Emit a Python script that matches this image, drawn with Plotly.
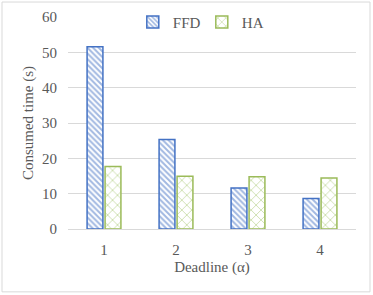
import plotly.graph_objects as go

categories = ["1", "2", "3", "4"]
ffd = [51.6, 25.3, 11.6, 8.6]
ha = [17.7, 14.9, 14.8, 14.4]
y_ticks = [0, 10, 20, 30, 40, 50, 60]

font_family = "Liberation Serif, Times New Roman, serif"
gray = "#595959"

fig = go.Figure()
fig.add_trace(go.Bar(
    x=categories, y=ffd, name="FFD",
    marker=dict(color="white", line=dict(color="#4472C4", width=1.5),
                pattern=dict(shape="\\", fgcolor="#4472C4", bgcolor="white", size=4, solidity=0.5)),
))
fig.add_trace(go.Bar(
    x=categories, y=ha, name="HA",
    marker=dict(color="white", line=dict(color="#9BBB59", width=1.5),
                pattern=dict(shape="x", fgcolor="#8DB548", bgcolor="white", size=7, solidity=0.22)),
))

fig.update_layout(
    width=373, height=295,
    margin=dict(l=68, r=17, t=17, b=66, autoexpand=False),
    paper_bgcolor="white", plot_bgcolor="white",
    font=dict(family=font_family, color=gray, size=15),
    barmode="group", bargap=0.5, bargroupgap=0.12,
    showlegend=True,
    legend=dict(orientation="h", x=0.225, xanchor="left", y=0.975, yanchor="middle",
                font=dict(size=15, color=gray), bgcolor="rgba(0,0,0,0)",
                itemwidth=30, tracegroupgap=0, entrywidth=24, entrywidthmode="pixels"),
    shapes=[dict(type="rect", xref="paper", yref="paper",
                 x0=-66/288, x1=1 + 14/288, y0=-63/212.5, y1=1 + 15/212.5,
                 line=dict(color="#D9D9D9", width=1))],
)
fig.update_xaxes(
    showline=False, ticks="", tickfont=dict(size=15, color=gray), ticklabelstandoff=10,
    title=dict(text="Deadline (α)", font=dict(size=15, color=gray), standoff=4),
)
fig.update_yaxes(
    range=[0, 60], tickvals=y_ticks, showgrid=True, gridcolor="#D9D9D9", gridwidth=1,
    zeroline=True, zerolinecolor="#D9D9D9", zerolinewidth=1,
    showline=False, ticks="", tickfont=dict(size=15, color=gray), ticklabelstandoff=10,
    title=dict(text="Consumed time (s)", font=dict(size=15, color=gray), standoff=4),
)

fig.write_html("out.html", config={"displayModeBar": False},
               post_script="document.body.style.margin='0';")
